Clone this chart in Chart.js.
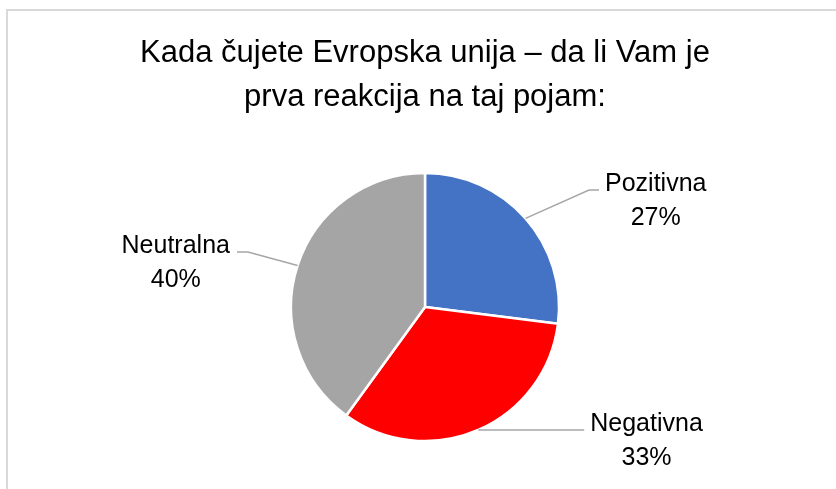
<!DOCTYPE html>
<html>
<head>
<meta charset="utf-8">
<script src="https://cdn.jsdelivr.net/npm/chart.js@4/dist/chart.umd.min.js"></script>
<style>
  html, body { margin: 0; padding: 0; background: #ffffff; }
  #wrap { width: 836px; height: 489px; }
</style>
</head>
<body>
<div id="wrap"><canvas id="c" width="836" height="489"></canvas></div>
<script>
// ---- data ----
const categories = ["Pozitivna", "Negativna", "Neutralna"];
const values = [27, 33, 40];
const percentLabels = ["27%", "33%", "40%"];
const titleLines = ["Kada čujete Evropska unija – da li Vam je", "prva reakcija na taj pojam:"];

// ---- style ----
const sliceColors = ["#4472C4", "#FF0000", "#A5A5A5"];
// leader geometry relative to arc mid-point on the rim: [elbowDx, elbowDy, endDx, endDy, side]
const leaderGeom = [
  [63.5, -28.4, 73.5, -28.4, 1],
  [0, 0, 106, 0, 1],
  [-49.6, -13.6, -60.6, -13.6, -1]
];
const labelFont = "25px 'Liberation Sans', Arial, sans-serif";

const frame = {
  id: 'frame',
  beforeDraw(chart) {
    const ctx = chart.ctx;
    ctx.save();
    ctx.fillStyle = '#ffffff';
    ctx.fillRect(0, 0, chart.width, chart.height);
    ctx.strokeStyle = '#D9D9D9';
    ctx.lineWidth = 2;
    ctx.strokeRect(7, 10, chart.width + 20, chart.height + 20);
    ctx.restore();
  }
};

const leaderLabels = {
  id: 'leaderLabels',
  afterDatasetsDraw(chart) {
    const ctx = chart.ctx;
    const meta = chart.getDatasetMeta(0);
    ctx.save();
    meta.data.forEach((arc, i) => {
      const p = arc.getProps(['x', 'y', 'startAngle', 'endAngle', 'outerRadius'], true);
      const mid = (p.startAngle + p.endAngle) / 2;
      const sx = p.x + Math.cos(mid) * p.outerRadius;
      const sy = p.y + Math.sin(mid) * p.outerRadius;
      const g = leaderGeom[i];
      const ex = sx + g[0], ey = sy + g[1];
      const fx = sx + g[2], fy = sy + g[3];
      ctx.strokeStyle = '#A6A6A6';
      ctx.lineWidth = 1.5;
      ctx.beginPath();
      ctx.moveTo(sx, sy);
      ctx.lineTo(ex, ey);
      ctx.lineTo(fx, fy);
      ctx.stroke();

      ctx.font = labelFont;
      ctx.fillStyle = '#000000';
      ctx.textAlign = 'center';
      ctx.textBaseline = 'alphabetic';
      const w = Math.max(ctx.measureText(categories[i]).width, ctx.measureText(percentLabels[i]).width);
      const cx = g[4] > 0 ? fx + 6 + w / 2 : fx - 7 - w / 2;
      const by = fy + 1;
      ctx.fillText(categories[i], cx, by);
      ctx.fillText(percentLabels[i], cx, by + 34);
    });
    ctx.restore();
  }
};

new Chart(document.getElementById('c'), {
  type: 'pie',
  data: {
    labels: categories,
    datasets: [{
      data: values,
      backgroundColor: sliceColors,
      borderColor: '#ffffff',
      borderWidth: 2.5,
      radius: 134
    }]
  },
  options: {
    responsive: false,
    animation: false,
    layout: { padding: { left: 14, right: 0, top: 0, bottom: 0 } },
    plugins: {
      legend: { display: false },
      tooltip: { enabled: false },
      title: {
        display: true,
        text: titleLines,
        color: '#000000',
        font: { family: "'Liberation Sans', Arial, sans-serif", size: 31, weight: 'normal', lineHeight: 44 / 31 },
        padding: { top: 31, bottom: 6 }
      }
    }
  },
  plugins: [frame, leaderLabels]
});
</script>
</body>
</html>
